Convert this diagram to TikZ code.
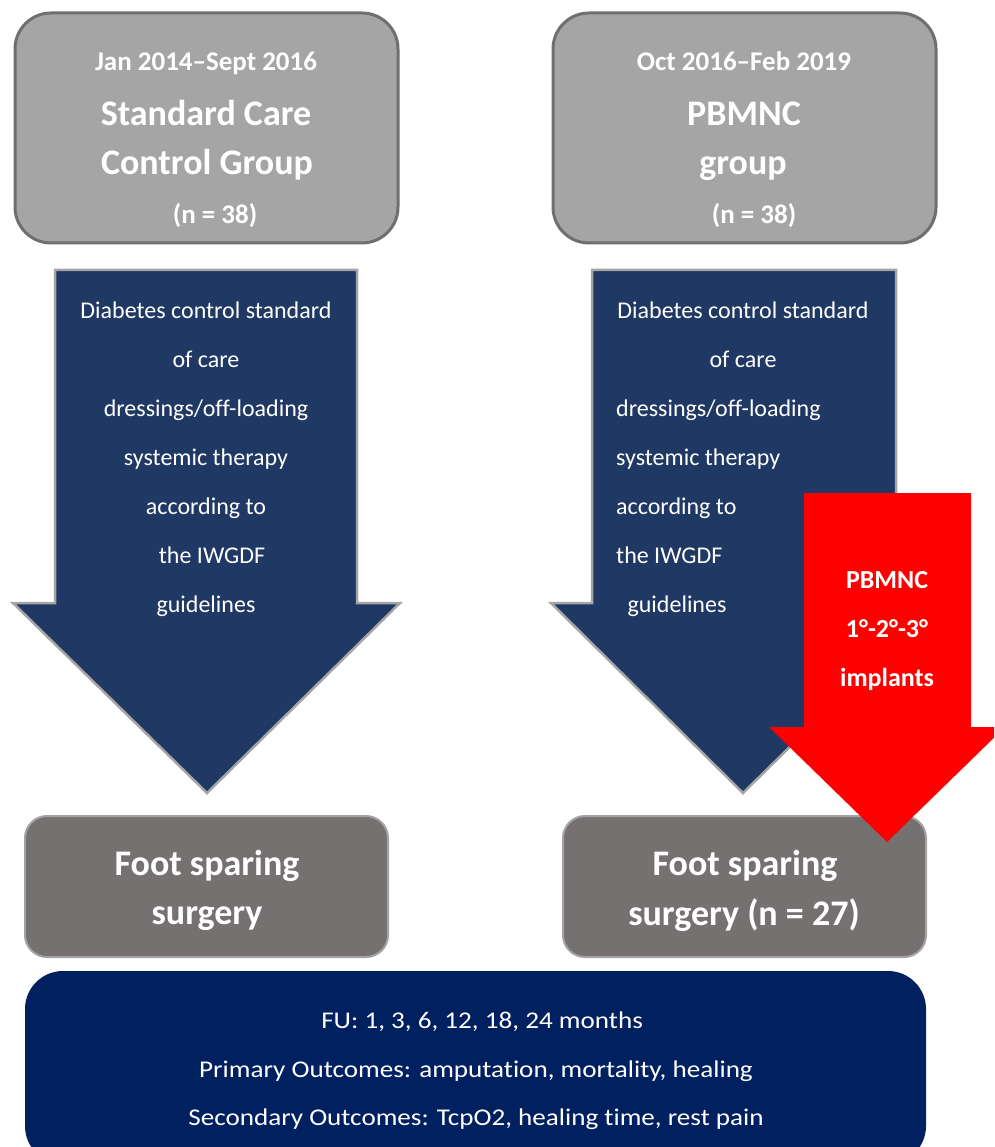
\documentclass[tikz,border=0pt]{standalone}
\usepackage{graphicx}
\usepackage{fontspec}
\setmainfont{Carlito}[Ligatures=NoCommon]
\definecolor{topfill}{HTML}{A5A5A5}
\definecolor{topborder}{HTML}{6F6F6F}
\definecolor{arrowblue}{HTML}{203864}
\definecolor{arrowborder}{HTML}{A5A5A5}
\definecolor{surgfill}{HTML}{767171}
\definecolor{surgborder}{HTML}{A3A3A3}
\definecolor{outblue}{HTML}{002060}
\definecolor{implred}{HTML}{FF0000}
\newcommand{\widetxt}[1]{\scalebox{1.13}[1]{#1}}
\tikzset{
  topbox/.style={draw=topborder, line width=3pt, fill=topfill, rounded corners=36pt},
  bigarrow/.style={draw=arrowborder, line width=2.5pt, fill=arrowblue, line join=miter},
  redarrow/.style={fill=implred},
  surgbox/.style={draw=surgborder, line width=2pt, fill=surgfill, rounded corners=22pt},
  outbox/.style={fill=outblue, rounded corners=38pt},
  small/.style={text=white, font=\fontsize{27}{31}\selectfont\bfseries, inner sep=0pt, anchor=base},
  redtxt/.style={text=white, font=\fontsize{26}{30}\selectfont\bfseries, inner sep=0pt, anchor=base},
  big/.style={text=white, font=\fontsize{36}{42}\selectfont\bfseries, inner sep=0pt, anchor=base},
  txt/.style={text=white, font=\fontsize{24}{28}\selectfont, inner sep=0pt, anchor=base},
  txtl/.style={txt, anchor=base west},
}
\begin{document}
\begin{tikzpicture}[x=1pt,y=-1pt]
\useasboundingbox (0,0) rectangle (994,1147);
\clip (0,0) rectangle (994,1147);
\fill[white] (0,0) rectangle (994,1147);

% top boxes
\draw[topbox] (15,13) rectangle (398,243);
\draw[topbox] (553,13) rectangle (936,243);
\node[small] (tl1) at (206,71) {Jan 2014–Sept 2016};
\node[big]   (tl2) at (206,126) {Standard Care};
\node[big]   (tl3) at (207,175) {Control Group};
\node[small] (tl4) at (215,224) {(n = 38)};
\node[small] (tr1) at (744,71) {Oct 2016–Feb 2019};
\node[big]   (tr2) at (744,126) {PBMNC};
\node[big]   (tr3) at (743,175) {group};
\node[small] (tr4) at (754,224) {(n = 38)};

% blue arrows
\draw[bigarrow] (55,270) -- (357,270) -- (357,603) -- (400,603) -- (207,793) -- (13,603) -- (55,603) -- cycle;
\draw[bigarrow] (592,270) -- (896,270) -- (896,603) -- (936,603) -- (743,793) -- (551,603) -- (592,603) -- cycle;

\node[txt]  (la1) at (206,318) {Diabetes control standard};
\node[txt]  (la2) at (206,367) {of care};
\node[txt]  (la3) at (206,416) {dressings/off-loading};
\node[txt]  (la4) at (206,465) {systemic therapy};
\node[txt]  (la5) at (206,514) {according to};
\node[txt]  (la6) at (212,563) {the IWGDF};
\node[txt]  (la7) at (206,612) {guidelines};

\node[txt]  (ra1) at (743,318) {Diabetes control standard};
\node[txt]  (ra2) at (743,367) {of care};
\node[txtl] (ra3) at (616,416) {dressings/off-loading};
\node[txtl] (ra4) at (616,465) {systemic therapy};
\node[txtl] (ra5) at (616,514) {according to};
\node[txtl] (ra6) at (616,563) {the IWGDF};
\node[txt]  (ra7) at (677,612) {guidelines};

% surgery boxes
\draw[surgbox] (25,816) rectangle (388,957);
\draw[surgbox] (563,816) rectangle (926,957);
\node[big] (ls1) at (207,875) {Foot sparing};
\node[big] (ls2) at (207,924) {surgery};
\node[big] (rs1) at (745,875) {Foot sparing};
\node[big] (rs2) at (744,925) {surgery (n = 27)};

% red arrow
\fill[redarrow] (804,493) -- (971,493) -- (971,727) -- (1005,727) -- (887,842) -- (769,727) -- (804,727) -- cycle;
\node[redtxt] (rd1) at (887,588) {PBMNC};
\node[redtxt] (rd2) at (887,637) {1°-2°-3°};
\node[redtxt] (rd3) at (887,686) {implants};

% outcome box
\fill[outbox] (25,971) rectangle (926,1164);
\node[txt] (o1) at (482,1028) {\widetxt{FU: 1, 3, 6, 12, 18, 24 months}};
\node[txt] (o2) at (476,1077) {\widetxt{Primary Outcomes: amputation, mortality, healing}};
\node[txt] (o3) at (476,1125) {\widetxt{Secondary Outcomes: TcpO2, healing time, rest pain}};
\end{tikzpicture}
\end{document}
